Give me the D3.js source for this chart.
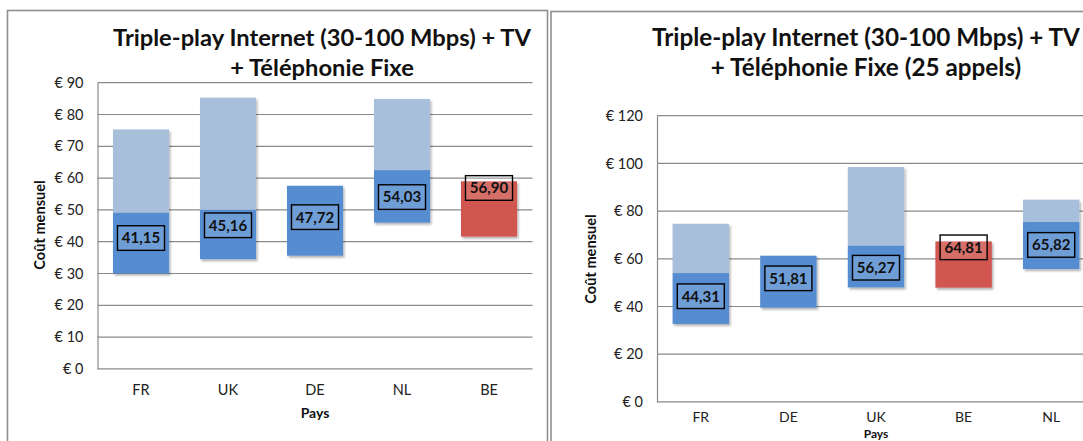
<!DOCTYPE html>
<html>
<head>
<meta charset="utf-8">
<script src="https://cdn.jsdelivr.net/npm/d3@7"></script>
<style>
  body { margin: 0; background: white; }
  svg { display: block; font-family: Lato, "Liberation Sans", sans-serif; }
</style>
</head>
<body>
<div id="container"></div>
<script>
// left chart : Triple-play Internet (30-100 Mbps) + TV + Téléphonie Fixe
let leftCountries = ["FR", "UK", "DE", "NL", "BE"];
let leftLow  = [30.0, 34.5, 35.6, 46.0, 41.6];   // bottom of the bar
let leftMid  = [49.1, 50.0, 57.6, 62.5, 59.0];   // top of the dark part
let leftHigh = [75.3, 85.3, null, 84.9, null];   // top of the light part
let leftAvg  = [41.15, 45.16, 47.72, 54.03, 56.90];
let leftTicks = [0, 10, 20, 30, 40, 50, 60, 70, 80, 90];

// right chart : same with 25 calls
let rightCountries = ["FR", "DE", "UK", "BE", "NL"];
let rightLow  = [32.7, 39.5, 48.0, 47.9, 55.7];
let rightMid  = [54.0, 61.3, 65.5, 67.3, 75.4];
let rightHigh = [74.7, null, 98.5, null, 84.8];
let rightAvg  = [44.31, 51.81, 56.27, 64.81, 65.82];
let rightTicks = [0, 20, 40, 60, 80, 100, 120];

let highlight = "BE";

let w = 1083;
let h = 441;

let viz = d3.select("#container")
  .append("svg")
    .attr("width", w)
    .attr("height", h)
    .style("background-color", "white")
;

// soft shadow under the bars, like in excel
let defs = viz.append("defs");
let shadow = defs.append("filter").attr("id", "shadow")
  .attr("x", "-20%").attr("y", "-20%").attr("width", "150%").attr("height", "150%");
shadow.append("feDropShadow")
  .attr("dx", 1.5).attr("dy", 2).attr("stdDeviation", 1.2)
  .attr("flood-color", "#000").attr("flood-opacity", 0.3);

function fmt(v){
  return v.toFixed(2).replace(".", ",");
}

function drawPanel(p){
  let g = viz.append("g");

  // frame
  g.append("rect")
    .attr("x", p.frameX)
    .attr("y", p.frameY)
    .attr("width", p.frameW)
    .attr("height", 500)
    .attr("fill", "none")
    .attr("stroke", "#8f8f8f")
    .attr("stroke-width", 1.6);

  // title, font size fitted so that the first line has the width of the original
  let title = g.append("text")
    .attr("text-anchor", "middle")
    .attr("font-weight", "bold")
    .attr("font-size", 20)
    .attr("fill", "#111");
  let t1 = title.append("tspan").attr("x", p.titleX).attr("y", 46).text(p.title1);
  title.append("tspan").attr("x", p.titleX).attr("y", 76).text(p.title2);
  let natural = t1.node().getComputedTextLength();
  if (natural > 0) {
    title.attr("font-size", 20 * p.titleWidth / natural);
  }

  let xScale = d3.scaleBand()
    .domain(p.countries)
    .range([p.x0, p.x1])
    .paddingInner(0.356)
    .paddingOuter(0.178);

  let yScale = d3.scaleLinear()
    .domain([0, p.yMax])
    .range([p.yBottom, p.yTop]);

  // gridlines
  g.selectAll(".grid").data(p.ticks.filter(d => d > 0)).enter()
    .append("line")
    .attr("x1", p.x0)
    .attr("x2", p.x1)
    .attr("y1", d => yScale(d))
    .attr("y2", d => yScale(d))
    .attr("stroke", "#8a8a8a")
    .attr("stroke-width", 1.2);

  // y axis
  let yAxis = d3.axisLeft(yScale)
    .tickValues(p.ticks)
    .tickSize(0)
    .tickPadding(14)
    .tickFormat(d => "€ " + d);
  let yg = g.append("g")
    .attr("transform", "translate(" + p.x0 + ",0)")
    .call(yAxis);
  yg.select(".domain").attr("stroke", "#8a8a8a").attr("stroke-width", 1.2);
  yg.selectAll("text")
    .attr("font-family", "Lato, sans-serif")
    .attr("font-size", 14.5)
    .attr("fill", "#222");

  // baseline
  g.append("line")
    .attr("x1", p.x0).attr("x2", p.x1)
    .attr("y1", yScale(0)).attr("y2", yScale(0))
    .attr("stroke", "#8a8a8a").attr("stroke-width", 1.2);

  // x axis labels
  let xAxis = d3.axisBottom(xScale).tickSize(0).tickPadding(0);
  let xg = g.append("g")
    .attr("transform", "translate(0," + p.xLabelY + ")")
    .call(xAxis);
  xg.select(".domain").remove();
  xg.selectAll("text")
    .attr("dy", 0)
    .attr("y", 0)
    .attr("font-family", "Lato, sans-serif")
    .attr("font-size", p.xLabelSize)
    .attr("fill", "#222");

  // axis titles
  g.append("text")
    .attr("x", p.paysX)
    .attr("y", p.paysY)
    .attr("text-anchor", "middle")
    .attr("font-weight", "bold")
    .attr("font-size", p.paysSize)
    .attr("fill", "#111")
    .text("Pays");

  g.append("text")
    .attr("transform", "translate(" + p.yTitleX + "," + p.yTitleY + ") rotate(-90)")
    .attr("text-anchor", "middle")
    .attr("font-weight", "bold")
    .attr("font-size", 14.6)
    .attr("fill", "#111")
    .text("Coût mensuel");

  // bars
  let rows = p.countries.map(function(c, i){
    return { country: c, low: p.low[i], mid: p.mid[i], high: p.high[i], avg: p.avg[i] };
  });

  let groups = g.selectAll(".bar").data(rows).enter()
    .append("g")
    .classed("bar", true)
    .attr("filter", "url(#shadow)");

  groups.filter(d => d.high != null)
    .append("rect")
    .attr("x", d => xScale(d.country))
    .attr("width", xScale.bandwidth())
    .attr("y", d => yScale(d.high))
    .attr("height", d => yScale(d.mid) - yScale(d.high))
    .attr("fill", "#a8bfdb");

  groups.append("rect")
    .attr("x", d => xScale(d.country))
    .attr("width", xScale.bandwidth())
    .attr("y", d => yScale(d.mid))
    .attr("height", d => yScale(d.low) - yScale(d.mid))
    .attr("fill", d => d.country == highlight ? "#d05750" : "#568dd1");

  // value labels in a box
  let labels = g.selectAll(".lab").data(rows).enter()
    .append("g")
    .classed("lab", true)
    .attr("transform", d => "translate(" + (xScale(d.country) + xScale.bandwidth() / 2) + "," + yScale(d.avg) + ")");

  labels.append("rect")
    .attr("x", -23.5)
    .attr("y", -12.3)
    .attr("width", 47)
    .attr("height", 24.6)
    .attr("fill", "rgba(255,255,255,0.15)")
    .attr("stroke", "#000")
    .attr("stroke-width", 1.4);

  labels.append("text")
    .attr("text-anchor", "middle")
    .attr("dy", "0.36em")
    .attr("font-weight", "bold")
    .attr("font-size", 15)
    .attr("fill", "#111")
    .text(d => fmt(d.avg));
}

drawPanel({
  countries: leftCountries, low: leftLow, mid: leftMid, high: leftHigh, avg: leftAvg,
  ticks: leftTicks, yMax: 90,
  frameX: 7.5, frameY: 10.5, frameW: 540,
  title1: "Triple-play Internet (30-100 Mbps) + TV",
  title2: "+ Téléphonie Fixe",
  titleX: 322, titleWidth: 418,
  x0: 97.5, x1: 532.5, yTop: 82.7, yBottom: 368.9,
  xLabelY: 395, xLabelSize: 14.5, paysX: 315, paysY: 418, paysSize: 14,
  yTitleX: 45, yTitleY: 225
});

drawPanel({
  countries: rightCountries, low: rightLow, mid: rightMid, high: rightHigh, avg: rightAvg,
  ticks: rightTicks, yMax: 120,
  frameX: 551, frameY: 11.5, frameW: 600,
  title1: "Triple-play Internet (30-100 Mbps) + TV",
  title2: "+ Téléphonie Fixe (25 appels)",
  titleX: 866, titleWidth: 428,
  x0: 657, x1: 1095, yTop: 115.7, yBottom: 401.9,
  xLabelY: 422, xLabelSize: 14, paysX: 876, paysY: 438.3, paysSize: 12,
  yTitleX: 596, yTitleY: 259
});
</script>
</body>
</html>
